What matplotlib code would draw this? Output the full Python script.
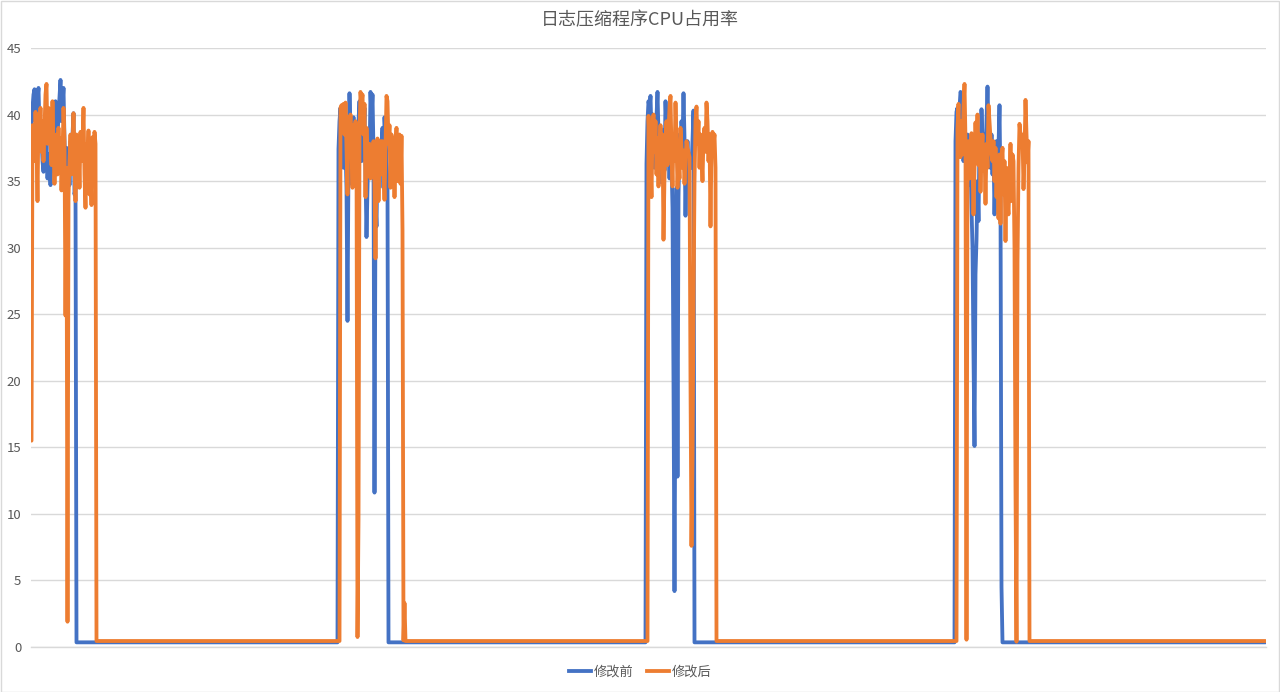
import matplotlib
matplotlib.use("Agg")
import matplotlib.pyplot as plt
from matplotlib.lines import Line2D
from matplotlib.patches import Rectangle

plt.rcParams['font.family'] = ['Noto Sans CJK SC', 'DejaVu Sans']

# ---- data: CPU usage (%) sampled once per tick ----
n_samples = 1235
series_names = ['修改前', '修改后']
y_ticks = [0, 5, 10, 15, 20, 25, 30, 35, 40, 45]

idle_before = 0.35
idle_after = 0.45

before_starts = [0, 307, 615, 924]
before_run1 = [39.2, 40.5, 41.5, 41.9, 39.5, 40.2, 41.2, 42.0, 39.0, 37.7, 38.5, 36.5,
               35.7, 37.5, 36.2, 38.0, 35.2, 37.0, 36.0, 34.7, 36.5, 38.4, 37.0, 39.5,
               41.0, 39.0, 38.3, 40.0, 41.3, 42.6, 39.5, 40.8, 42.0, 38.0, 35.5, 37.5,
               36.2, 37.0, 34.7, 38.0, 36.8, 38.5, 40.1, 34.0, 34.5]
before_run2 = [37.4, 39.5, 40.5, 38.0, 40.2, 36.0, 39.5, 37.5, 34.5, 24.5, 36.5, 41.6,
               38.5, 34.8, 37.5, 39.8, 36.5, 38.0, 35.2, 37.0, 39.5, 41.0, 38.2, 36.5,
               39.5, 37.5, 40.5, 35.5, 30.8, 34.5, 38.0, 36.5, 41.7, 39.8, 41.5, 37.2,
               11.6, 33.5, 31.6, 36.8, 34.5, 38.0, 35.8, 37.5, 39.0, 34.5, 39.8, 38.5,
               36.5, 35.0]
before_run3 = [36.3, 39.5, 41.0, 40.5, 41.4, 38.5, 40.0, 37.0, 36.0, 38.5, 39.8, 41.7,
               38.5, 37.0, 39.0, 34.9, 37.2, 38.8, 35.8, 41.0, 39.0, 37.5, 38.2, 35.2,
               37.8, 36.5, 33.0, 20.0, 4.2, 22.0, 34.5, 12.8, 33.8, 38.5, 36.2, 39.5,
               37.8, 41.6, 38.2, 32.4, 36.5, 38.0, 35.5, 37.0, 36.5, 36.0, 38.0, 40.3]
before_run4 = [38.0, 40.2, 40.5, 39.0, 40.5, 41.7, 41.5, 38.5, 36.5, 39.5, 37.5, 35.8,
               38.5, 37.0, 34.7, 36.5, 33.0, 30.0, 22.0, 15.1, 28.0, 30.6, 35.0, 32.0,
               38.0, 36.5, 40.4, 38.0, 36.2, 38.5, 37.0, 39.5, 42.1, 39.0, 37.8, 36.0,
               38.5, 35.5, 37.5, 32.5, 36.0, 38.0, 36.0, 37.5, 40.7, 34.0, 4.5]

after_starts = [0, 309, 617, 926]
after_run1 = [15.5, 39.2, 37.0, 36.5, 40.2, 38.0, 33.5, 40.0, 38.5, 40.5, 37.2, 39.5,
              36.5, 39.0, 41.5, 42.3, 37.8, 40.5, 39.8, 38.0, 36.2, 41.0, 37.5, 34.8,
              37.4, 38.5, 35.5, 39.0, 36.0, 38.2, 34.3, 36.8, 40.5, 38.0, 24.9, 36.0,
              1.9, 33.8, 36.5, 38.5, 35.5, 37.5, 40.1, 36.8, 33.5, 38.5, 35.0, 37.8,
              34.5, 38.7, 36.5, 37.8, 40.5, 35.5, 33.0, 37.8, 36.5, 38.8, 34.0, 36.0,
              33.2, 38.3, 36.2, 38.7, 37.8]
after_run2 = [40.5, 40.7, 40.2, 40.8, 38.5, 40.9, 37.5, 34.0, 39.8, 38.2, 40.0, 37.5,
              34.5, 39.2, 36.8, 39.5, 38.2, 0.75, 9.6, 38.5, 41.7, 40.8, 41.5, 38.5,
              40.8, 33.8, 39.0, 36.5, 35.4, 37.8, 35.2, 37.5, 36.0, 38.0, 34.8, 29.2,
              36.5, 38.2, 33.5, 36.8, 38.0, 35.5, 38.0, 36.2, 33.6, 37.5, 41.4, 41.0,
              37.8, 39.2, 34.5, 38.5, 36.0, 38.2, 33.8, 37.5, 39.0, 35.0, 37.8, 38.5,
              34.8, 38.4, 31.3, 0.5, 3.3]
after_run3 = [39.9, 38.0, 36.5, 33.8, 39.0, 40.0, 37.2, 39.5, 35.5, 38.2, 34.6, 37.5,
              39.2, 36.0, 38.5, 30.6, 35.5, 37.8, 39.5, 36.2, 38.8, 40.5, 41.4, 37.2,
              34.6, 38.5, 36.5, 40.9, 38.0, 34.5, 36.8, 35.2, 39.0, 37.5, 36.0, 37.3,
              34.8, 36.5, 38.0, 37.5, 37.2, 36.8, 20.0, 7.6, 14.0, 25.5, 35.0, 39.5,
              40.6, 37.8, 39.5, 36.0, 38.5, 37.0, 35.0, 38.3, 39.0, 37.2, 40.9, 39.5,
              36.5, 38.5, 31.6, 37.5, 38.7, 37.8, 38.5, 36.0]
after_run4 = [38.9, 40.8, 37.0, 36.8, 39.5, 37.0, 40.5, 42.3, 38.0, 0.55, 36.9, 38.0,
              35.2, 37.5, 38.6, 36.5, 32.5, 36.0, 39.4, 37.0, 40.0, 36.2, 38.5, 34.2,
              37.2, 38.5, 35.8, 37.5, 33.3, 37.8, 36.0, 40.7, 39.5, 38.2, 37.0, 36.5,
              38.0, 35.0, 37.5, 33.8, 36.8, 32.2, 37.0, 31.8, 36.5, 37.5, 34.0, 36.5,
              30.5, 36.0, 33.5, 32.5, 35.0, 37.8, 33.5, 37.0, 36.5, 30.0, 12.0, 0.4,
              28.9, 36.0, 39.3, 38.5, 37.8, 38.5, 34.4, 37.0, 41.1, 38.5, 36.4, 38.0]

before_runs = [before_run1, before_run2, before_run3, before_run4]
after_runs = [after_run1, after_run2, after_run3, after_run4]


def assemble(starts, runs, idle, n):
    """Join the busy runs with flat idle stretches between them."""
    xs, ys = [], []
    prev_end = None
    for s, run in zip(starts, runs):
        if prev_end is None:
            if s > 0:
                xs += [0, s - 1]
                ys += [idle, idle]
        else:
            xs += [prev_end + 1, s - 1]
            ys += [idle, idle]
        xs += list(range(s, s + len(run)))
        ys += run
        prev_end = s + len(run) - 1
    xs += [prev_end + 1, n - 1]
    ys += [idle, idle]
    return xs, ys


x_before, y_before = assemble(before_starts, before_runs, idle_before, n_samples)
x_after, y_after = assemble(after_starts, after_runs, idle_after, n_samples)

# ---- figure ----
W, H = 1280, 692
fig = plt.figure(figsize=(W / 100, H / 100), dpi=100)
fig.patch.set_facecolor('white')
fig.patches.append(Rectangle((0.5 / W, 0.5 / H), 1 - 1.5 / W, 1 - 1.5 / H,
                             transform=fig.transFigure, fill=False,
                             edgecolor='#D9D9D9', linewidth=1))

ax = fig.add_axes([31 / W, 1 - 647 / H, 1235 / W, (647 - 48) / H])

blue = '#4472C4'
orange = '#ED7D31'
grey_text = '#595959'
grid_col = '#D9D9D9'
lw = 2.75

ax.plot(x_before, y_before, color=blue, lw=lw, solid_joinstyle='round',
        solid_capstyle='round', zorder=3)
ax.plot(x_after, y_after, color=orange, lw=lw, solid_joinstyle='round',
        solid_capstyle='round', zorder=4)

ax.set_xlim(-0.5, n_samples - 0.5)
ax.set_ylim(0, 45)
ax.set_yticks(y_ticks)
ax.set_yticklabels([str(v) for v in y_ticks])
ax.set_xticks([])
ax.tick_params(axis='y', length=0, pad=7, labelsize=9.5, labelcolor=grey_text)
ax.grid(axis='y', color=grid_col, linewidth=1)
ax.set_axisbelow(True)
for side in ['left', 'right', 'top']:
    ax.spines[side].set_visible(False)
ax.spines['bottom'].set_color(grid_col)
ax.spines['bottom'].set_linewidth(1)

fig.text(0.5, 1 - 20 / H, '日志压缩程序CPU占用率', ha='center', va='center',
         fontsize=13, color=grey_text)

handles = [Line2D([], [], color=blue, lw=lw), Line2D([], [], color=orange, lw=lw)]
fig.legend(handles, series_names, loc='center', bbox_to_anchor=(0.5, 1 - 672 / H),
           ncol=2, frameon=False, fontsize=9.5, labelcolor=grey_text,
           handlelength=1.7, handletextpad=0.2, columnspacing=1.0)

fig.savefig('out.png', dpi=100, facecolor='white')
